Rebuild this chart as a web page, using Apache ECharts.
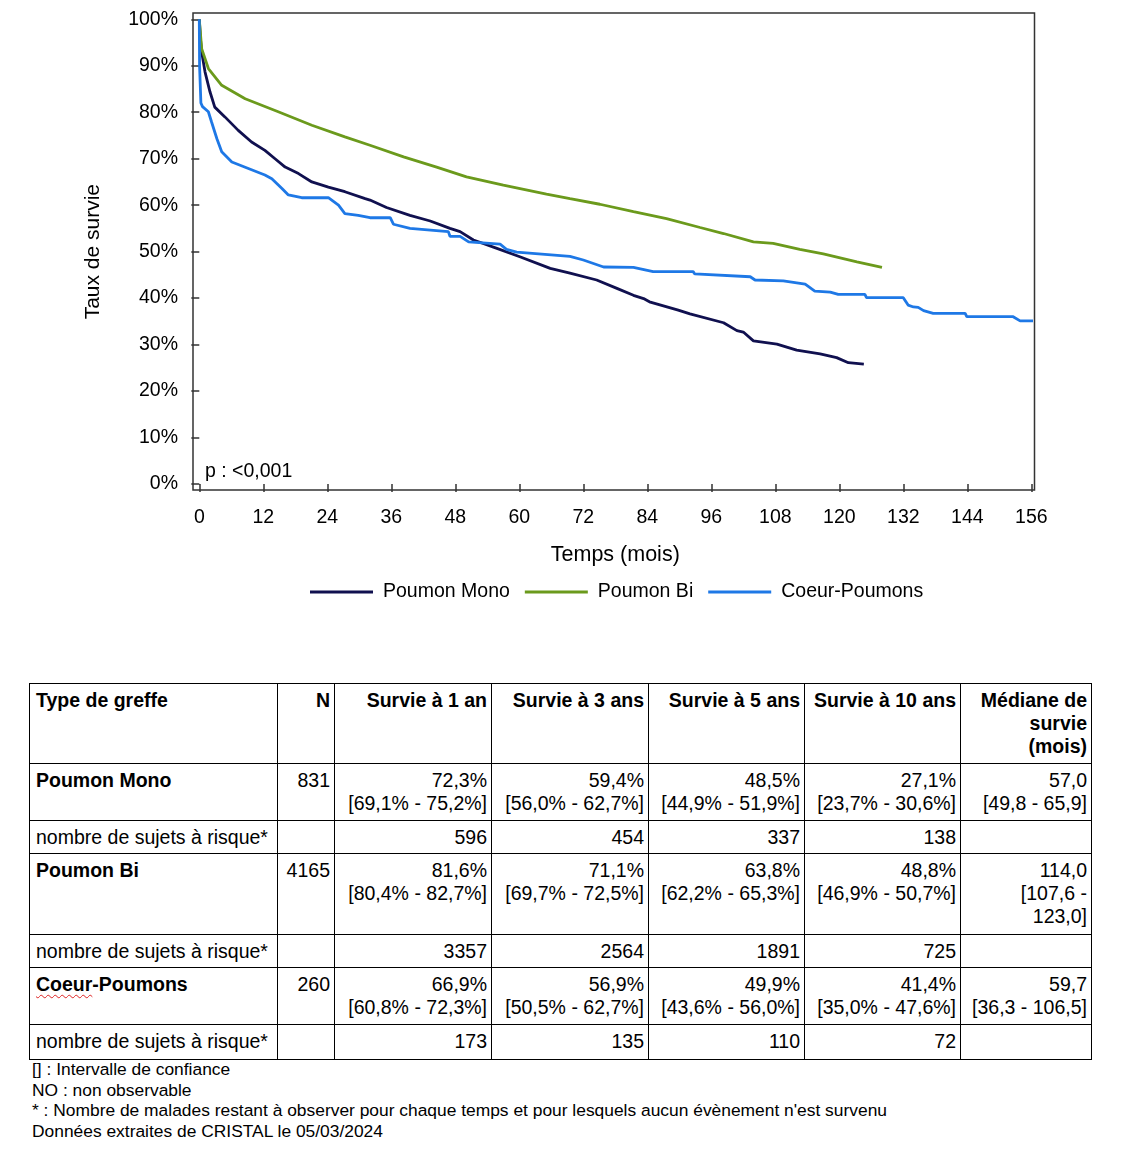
<!DOCTYPE html>
<html>
<head>
<meta charset="utf-8">
<script src="https://cdn.jsdelivr.net/npm/echarts@6/dist/echarts.min.js"></script>
<style>
  html, body { margin: 0; padding: 0; background: #fff; }
  body { width: 1131px; height: 1168px; position: relative; font-family: "Liberation Sans", Arial, sans-serif; color: #000; }
  #chart { position: absolute; left: 0; top: 0; width: 1131px; height: 640px; }
  table { position: absolute; left: 29px; top: 683px; border-collapse: collapse; table-layout: fixed; font-size: 19.5px; line-height: 23px; }
  td, th { border: 1px solid #000; padding: 5px 4px 4px 6px; vertical-align: top; box-sizing: border-box; }
  th { font-weight: bold; text-align: right; }
  th.l, td.l { text-align: left; }
  td { text-align: right; }
  td.b { font-weight: bold; }
  .wavy { text-decoration: underline wavy #d22; text-decoration-thickness: 1px; text-underline-offset: 3px; }
  #notes { position: absolute; left: 32px; top: 1059px; font-size: 17.4px; line-height: 20.7px; }
</style>
</head>
<body>
<div id="chart"></div>
<table>
  <colgroup>
    <col style="width:248px"><col style="width:57px"><col style="width:157px"><col style="width:157px"><col style="width:156px"><col style="width:156px"><col style="width:131px">
  </colgroup>
  <tr style="height:80px"><th class="l">Type de greffe</th><th>N</th><th>Survie à 1 an</th><th>Survie à 3 ans</th><th>Survie à 5 ans</th><th>Survie à 10 ans</th><th>Médiane de survie (mois)</th></tr>
  <tr style="height:57px"><td class="l b">Poumon Mono</td><td>831</td><td>72,3%<br>[69,1% - 75,2%]</td><td>59,4%<br>[56,0% - 62,7%]</td><td>48,5%<br>[44,9% - 51,9%]</td><td>27,1%<br>[23,7% - 30,6%]</td><td>57,0<br>[49,8 - 65,9]</td></tr>
  <tr style="height:33px"><td class="l">nombre de sujets à risque*</td><td></td><td>596</td><td>454</td><td>337</td><td>138</td><td></td></tr>
  <tr style="height:81px"><td class="l b">Poumon Bi</td><td>4165</td><td>81,6%<br>[80,4% - 82,7%]</td><td>71,1%<br>[69,7% - 72,5%]</td><td>63,8%<br>[62,2% - 65,3%]</td><td>48,8%<br>[46,9% - 50,7%]</td><td>114,0<br>[107,6 -<br>123,0]</td></tr>
  <tr style="height:33px"><td class="l">nombre de sujets à risque*</td><td></td><td>3357</td><td>2564</td><td>1891</td><td>725</td><td></td></tr>
  <tr style="height:57px"><td class="l b"><span class="wavy">Coeur</span>-Poumons</td><td>260</td><td>66,9%<br>[60,8% - 72,3%]</td><td>56,9%<br>[50,5% - 62,7%]</td><td>49,9%<br>[43,6% - 56,0%]</td><td>41,4%<br>[35,0% - 47,6%]</td><td>59,7<br>[36,3 - 106,5]</td></tr>
  <tr style="height:35px"><td class="l">nombre de sujets à risque*</td><td></td><td>173</td><td>135</td><td>110</td><td>72</td><td></td></tr>
</table>
<div id="notes">[] : Intervalle de confiance<br>NO : non observable<br>* : Nombre de malades restant à observer pour chaque temps et pour lesquels aucun évènement n'est survenu<br>Données extraites de CRISTAL le 05/03/2024</div>
<script>
// Survival curves (months, % survival)
const monoTime = [0, 0.2, 0.44, 1.07, 2.0, 2.9, 4.8, 7.3, 9.8, 12.3, 14.2, 16.1, 18.6, 21.1, 24.2, 27.3, 31.1, 32.0, 35.1, 39.5, 43.3, 47.0, 48.9, 51.4, 55.8, 60.1, 65.8, 69.5, 74.5, 78.3, 81.4, 83.3, 84.4, 89.8, 92.0, 98.3, 100.8, 102.0, 103.9, 108.3, 112.0, 116.4, 119.5, 121.7, 124.6];
const monoSurv = [100, 96.0, 93.0, 88.7, 84.4, 81.1, 79.0, 76.1, 73.6, 71.8, 70.0, 68.2, 66.8, 65.0, 63.9, 62.9, 61.4, 61.1, 59.5, 57.8, 56.6, 55.0, 54.3, 52.5, 50.7, 48.9, 46.4, 45.4, 43.9, 42.1, 40.6, 39.9, 39.2, 37.4, 36.6, 34.7, 33.0, 32.7, 30.8, 30.1, 28.8, 28.0, 27.2, 26.1, 25.8];

const biTime = [0, 0.44, 1.7, 4.2, 8.6, 14.8, 21.1, 27.3, 32.0, 38.3, 44.5, 50.1, 57.0, 65.1, 69.5, 75.1, 81.4, 87.6, 93.9, 98.3, 103.9, 107.6, 112.6, 117.0, 123.3, 128.0];
const biSurv = [100, 93.7, 89.4, 85.8, 82.9, 80.1, 77.2, 74.7, 72.9, 70.4, 68.2, 66.1, 64.3, 62.4, 61.4, 60.2, 58.6, 57.1, 55.2, 53.9, 52.1, 51.8, 50.5, 49.5, 47.8, 46.6];

const cpTime = [0, 0.05, 0.3, 0.6, 1.7, 2.3, 3.3, 4.2, 6.1, 9.2, 12.3, 13.6, 15.5, 16.7, 19.2, 24.2, 26.1, 27.3, 29.8, 32.0, 35.8, 36.4, 39.5, 43.9, 46.7, 47.0, 48.9, 50.5, 56.4, 57.6, 59.5, 69.5, 72.0, 75.8, 81.4, 85.1, 92.6, 92.9, 103.3, 104.2, 109.5, 113.6, 115.4, 118.3, 119.8, 124.8, 125.1, 132.0, 132.9, 133.9, 134.8, 135.8, 137.6, 143.6, 143.9, 152.6, 153.9, 156.5];
const cpSurv = [100, 90.0, 82.0, 81.2, 80.1, 77.9, 74.3, 71.5, 69.3, 67.9, 66.5, 65.7, 63.6, 62.2, 61.6, 61.6, 60.0, 58.2, 57.8, 57.3, 57.3, 55.9, 55.0, 54.6, 54.3, 53.3, 53.3, 52.1, 51.6, 50.5, 49.9, 49.0, 48.2, 46.7, 46.6, 45.7, 45.7, 45.2, 44.6, 43.9, 43.7, 43.0, 41.5, 41.3, 40.8, 40.8, 40.1, 40.1, 38.5, 38.1, 38.0, 37.3, 36.7, 36.7, 36.0, 36.0, 35.1, 35.1];

const seriesNames = ['Poumon Mono', 'Poumon Bi', 'Coeur-Poumons'];
const seriesColors = ['#10104f', '#6b9a1c', '#1e78e6'];
const pValueText = 'p : <0,001';

const zip = (t, s) => t.map((v, i) => [v, s[i]]);
const curves = [zip(monoTime, monoSurv), zip(biTime, biSurv), zip(cpTime, cpSurv)];

const chart = echarts.init(document.getElementById('chart'), null, { renderer: 'canvas' });
const fontFamily = '"Liberation Sans", Arial, sans-serif';
chart.setOption({
  animation: false,
  textStyle: { fontFamily: fontFamily, color: '#000' },
  grid: [
    { left: 199.3, right: 99.7, top: 19.3, bottom: 156, containLabel: false },
    { left: 193, right: 96.5, top: 13, bottom: 150, show: true, borderColor: '#333', borderWidth: 1.5, backgroundColor: 'transparent' }
  ],
  xAxis: [
    {
      type: 'value', gridIndex: 0, min: 0, max: 156, interval: 12, offset: 6,
      axisLine: { show: false },
      axisTick: { show: true, length: 8, lineStyle: { color: '#333', width: 1.5 } },
      axisLabel: { fontSize: 19.5, color: '#000', margin: 18, fontFamily: fontFamily },
      splitLine: { show: false },
      name: 'Temps (mois)', nameLocation: 'middle', nameGap: 54,
      nameTextStyle: { fontSize: 21.5, color: '#000', fontFamily: fontFamily }
    },
    { type: 'value', gridIndex: 1, show: false, min: 0, max: 1 }
  ],
  yAxis: [
    {
      type: 'value', gridIndex: 0, min: 0, max: 100, interval: 10, offset: 6.3,
      axisLine: { show: false },
      axisTick: { show: true, length: 8, lineStyle: { color: '#333', width: 1.5 } },
      axisLabel: { fontSize: 19.5, color: '#000', margin: 15, formatter: '{value}%', fontFamily: fontFamily },
      splitLine: { show: false },
      name: 'Taux de survie', nameLocation: 'middle', nameGap: 89,
      nameTextStyle: { fontSize: 21, color: '#000', fontFamily: fontFamily }
    },
    { type: 'value', gridIndex: 1, show: false, min: 0, max: 1 }
  ],
  legend: {
    left: 310, top: 582, padding: 0, itemWidth: 63, itemHeight: 3, itemGap: 15, icon: 'rect',
    textStyle: { fontSize: 19.5, color: '#000', padding: [0, 0, 0, 5], fontFamily: fontFamily },
    data: seriesNames
  },
  graphic: [
    { type: 'text', left: 205, top: 462, style: { text: pValueText, font: '19.5px "Liberation Sans", Arial, sans-serif', fill: '#000' } }
  ],
  series: curves.map((d, i) => ({
    name: seriesNames[i], type: 'line', xAxisIndex: 0, yAxisIndex: 0,
    data: d, showSymbol: false, symbol: 'none', clip: false,
    lineStyle: { color: seriesColors[i], width: 2.8 },
    itemStyle: { color: seriesColors[i] }
  }))
});
</script>
</body>
</html>
